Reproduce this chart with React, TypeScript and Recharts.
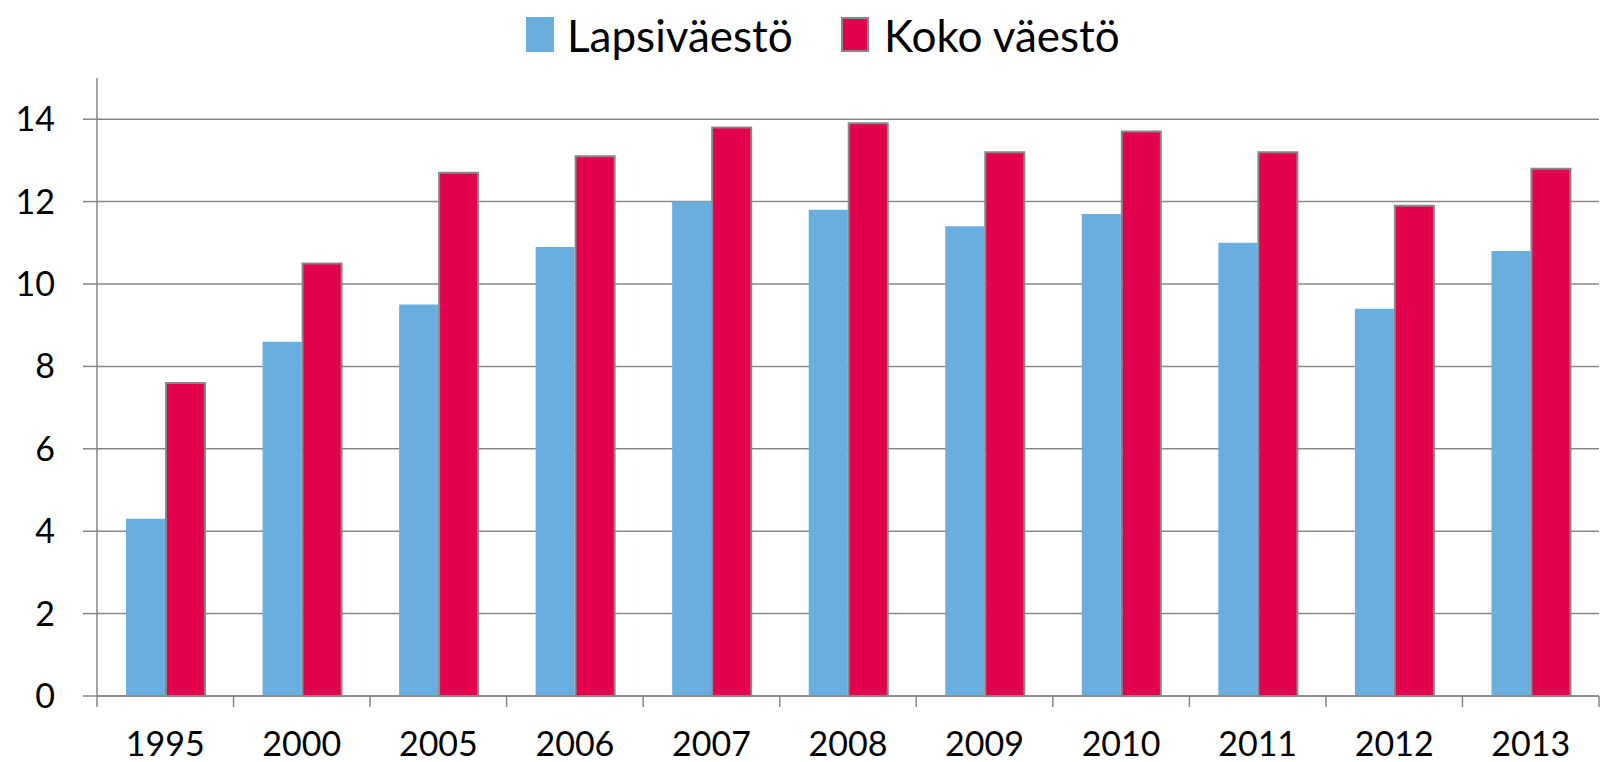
import React from 'react';
import { BarChart, Bar, XAxis, YAxis, CartesianGrid } from 'recharts';

const years = ['1995', '2000', '2005', '2006', '2007', '2008', '2009', '2010', '2011', '2012', '2013'];
const lapsivaesto = [4.3, 8.6, 9.5, 10.9, 12.0, 11.8, 11.4, 11.7, 11.0, 9.4, 10.8];
const kokoVaesto = [7.6, 10.5, 12.7, 13.1, 13.8, 13.9, 13.2, 13.7, 13.2, 11.9, 12.8];
const yTicks = [0, 2, 4, 6, 8, 10, 12, 14];

const BLUE = '#6AAEE0';
const RED = '#E3004F';
const GRAY = '#878787';
const FONT = 'Lato, "Open Sans", sans-serif';

const data = years.map((year, i) => ({
    year,
    lapsi: lapsivaesto[i],
    koko: kokoVaesto[i],
}));

// year label plus the tick marks on the category boundaries (Excel style)
const YearTick = (props: any) => {
    const { x, y, payload, index } = props;
    const half = payload.offset || 0;
    const last = index === years.length - 1;
    return (
        <g>
            <line x1={x - half} x2={x - half} y1={y} y2={y + 11} stroke={GRAY} strokeWidth={1.5} />
            {last && <line x1={x + half} x2={x + half} y1={y} y2={y + 11} stroke={GRAY} strokeWidth={1.5} />}
            <text x={x} y={y + 36} dy="0.71em" textAnchor="middle" fontSize={34} fontFamily={FONT} fill="#000">
                {payload.value}
            </text>
        </g>
    );
};

const ChartLegend: React.FC = () => (
    <svg width={1603} height={70} style={{ position: 'absolute', left: 0, top: 0 }}>
        <rect x={526} y={17} width={28} height={35} fill={BLUE} />
        <text x={567} y={52} fontSize={44} fontFamily={FONT} fill="#000">Lapsiväestö</text>
        <rect x={842} y={18} width={26} height={33} fill={RED} stroke={GRAY} strokeWidth={2} />
        <text x={884} y={52} fontSize={44} fontFamily={FONT} fill="#000">Koko väestö</text>
    </svg>
);

const App: React.FC = () => {
    return (
        <div style={{ position: 'absolute', left: 0, top: 0, width: 1603, height: 762, background: '#fff' }}>
            <BarChart
                width={1603}
                height={762}
                data={data}
                margin={{ top: 78, right: 4, bottom: 0, left: 0 }}
                barGap={1}
            >
                <CartesianGrid
                    vertical={false}
                    horizontalValues={yTicks}
                    syncWithTicks
                    stroke={GRAY}
                    strokeWidth={1.5}
                />
                <XAxis
                    dataKey="year"
                    height={66}
                    tickLine={false}
                    tickSize={0}
                    tickMargin={0}
                    axisLine={{ stroke: GRAY, strokeWidth: 1.5 }}
                    tick={<YearTick />}
                    interval={0}
                />
                <YAxis
                    width={97}
                    domain={[0, 15]}
                    ticks={yTicks}
                    interval={0}
                    tickSize={14}
                    tickMargin={28}
                    axisLine={{ stroke: GRAY, strokeWidth: 1.5 }}
                    tickLine={{ stroke: GRAY, strokeWidth: 1.5 }}
                    tick={{ fill: '#000', fontSize: 34, fontFamily: FONT }}
                />
                <Bar dataKey="lapsi" name="Lapsiväestö" fill={BLUE} barSize={39} isAnimationActive={false} />
                <Bar
                    dataKey="koko"
                    name="Koko väestö"
                    fill={RED}
                    stroke={GRAY}
                    strokeWidth={2}
                    barSize={39}
                    isAnimationActive={false}
                />
            </BarChart>
            <ChartLegend />
        </div>
    );
};

export default App;
